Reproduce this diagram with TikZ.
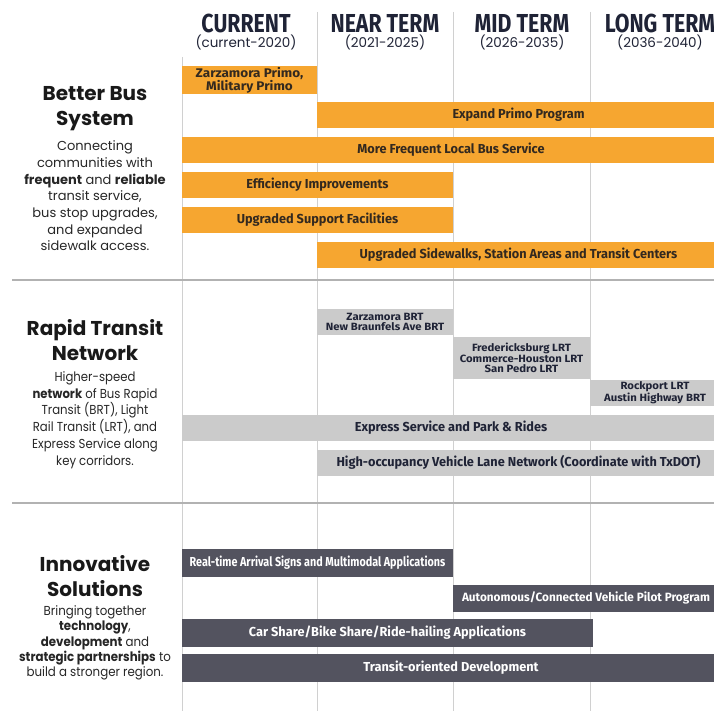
\documentclass[tikz,border=0pt]{standalone}
\usepackage{fontspec}
\setmainfont{Poppins}
\newfontfamily\narrowfont[FakeStretch=0.9]{Poppins}
\newfontfamily\techfont[FakeStretch=0.91]{Poppins}
\newfontfamily\barfont[FakeStretch=0.98]{Fira Sans}
\newfontfamily\widebarfont[FakeStretch=1.08]{Fira Sans}
\newfontfamily\squeezefont[FakeStretch=0.83]{Fira Sans}
\newfontfamily\headfont[FakeStretch=0.82]{Fira Sans}
\usepackage{tikz}

\definecolor{busorange}{HTML}{F6A630}
\definecolor{railgray}{HTML}{CBCBCB}
\definecolor{techslate}{HTML}{53535F}
\definecolor{inkblue}{HTML}{1F2336}
\definecolor{barink}{HTML}{33291F}
\definecolor{rulegray}{HTML}{D0D0D0}
\newcommand{\hd}[2]{{\headfont\bfseries\fontsize{26}{26}\selectfont #1}\\[1pt]{\fontsize{13.5}{13.5}\selectfont #2}}

\begin{document}
\begin{tikzpicture}
  [x=1pt,y=-1pt,every node/.style={inner sep=0pt,align=center},
   title/.style={font=\bfseries\fontsize{20}{25}\selectfont,text=black!90},
   blurb/.style={font=\fontsize{13}{16.7}\selectfont,text=black!85},
   bar/.style={font=\barfont\bfseries\fontsize{13}{14}\selectfont},
   small/.style={font=\widebarfont\bfseries\fontsize{10.5}{10.5}\selectfont},
   obar/.style={bar,fill=busorange,text=barink,minimum height=26},
   gbar/.style={bar,fill=railgray,text=inkblue,minimum height=26},
   dbar/.style={bar,fill=techslate,text=white,minimum height=28}]
  \path[use as bounding box] (0,0) rectangle (714,711);
  \clip (0,0) rectangle (714,711);

  % grid
  \foreach \x/\top in {182/57,317/12,453/12,590/12}
    \draw[rulegray,line width=1pt] (\x,\top) -- (\x,711);
  \foreach \y in {280,503}
    \draw[black!30,line width=1.2pt] (12,\y) -- (714,\y);

  % column heads
  \node[text=inkblue] (current) at (246,32) {\hd{CURRENT}{(current-2020)}};
  \node[text=inkblue] (near) at (385,32) {\hd{NEAR TERM}{(2021-2025)}};
  \node[text=inkblue] (mid) at (522,32) {\hd{MID TERM}{(2026-2035)}};
  \node[text=inkblue] (long) at (660,32) {\hd{LONG TERM}{(2036-2040)}};

  % better bus system
  \node[title] (bustitle) at (95,108.5) {Better Bus\\System};
  \node[blurb] (bustext) at (95,196) {Connecting\\communities with\\\textbf{frequent} and \textbf{reliable}\\transit service,\\bus stop upgrades,\\and expanded\\sidewalk access.};
  \node[obar,small,font=\widebarfont\bfseries\fontsize{12.5}{12}\selectfont,minimum width=135,minimum height=28] (zarzprimo) at (249.5,80) {Zarzamora Primo,\\Military Primo};
  \node[obar,minimum width=403] (primo) at (518.5,115) {Expand Primo Program};
  \node[obar,minimum width=538] (localbus) at (451,150) {More Frequent Local Bus Service};
  \node[obar,minimum width=271] (efficiency) at (317.5,185) {Efficiency Improvements};
  \node[obar,minimum width=271] (facilities) at (317.5,220) {Upgraded Support Facilities};
  \node[obar,minimum width=403] (sidewalks) at (518.5,255) {Upgraded Sidewalks, Station Areas and Transit Centers};

  % rapid transit network
  \node[title] (railtitle) at (95,340) {Rapid Transit\\Network};
  \node[blurb,font=\narrowfont\fontsize{13}{16.8}\selectfont] (railtext) at (95,420) {Higher-speed\\\textbf{network} of Bus Rapid\\Transit (BRT), Light\\Rail Transit (LRT), and\\Express Service along\\key corridors.};
  \node[gbar,small,minimum width=136] (brt) at (385,322) {Zarzamora BRT\\New Braunfels Ave BRT};
  \node[gbar,small,minimum width=137,minimum height=42] (lrt) at (521.5,358) {Fredericksburg LRT\\Commerce-Houston LRT\\San Pedro LRT};
  \node[gbar,small,minimum width=130] (rockport) at (655,393) {Rockport LRT\\Austin Highway BRT};
  \node[gbar,minimum width=538] (express) at (451,428) {Express Service and Park \& Rides};
  \node[gbar,minimum width=403] (hov) at (518.5,462.5) {High-occupancy Vehicle Lane Network (Coordinate with TxDOT)};

  % innovative solutions
  \node[title] (techtitle) at (95,576) {Innovative\\Solutions};
  \node[blurb,font=\techfont\fontsize{13}{15.2}\selectfont] (techtext) at (95,643) {Bringing together\\\textbf{technology},\\\textbf{development} and\\\textbf{strategic partnerships} to\\build a stronger region.};
  \node[dbar,font=\squeezefont\bfseries\fontsize{13}{14}\selectfont,minimum width=271] (realtime) at (317.5,563) {Real-time Arrival Signs and Multimodal Applications};
  \node[dbar,font=\barfont\bfseries\fontsize{12}{13}\selectfont,minimum width=266,minimum height=27] (autonomous) at (586,598) {Autonomous/Connected Vehicle Pilot Program};
  \node[dbar,minimum width=411] (carshare) at (387.5,633) {Car Share/Bike Share/Ride-hailing Applications};
  \node[dbar,minimum width=538] (tod) at (451,668) {Transit-oriented Development};
\end{tikzpicture}
\end{document}
